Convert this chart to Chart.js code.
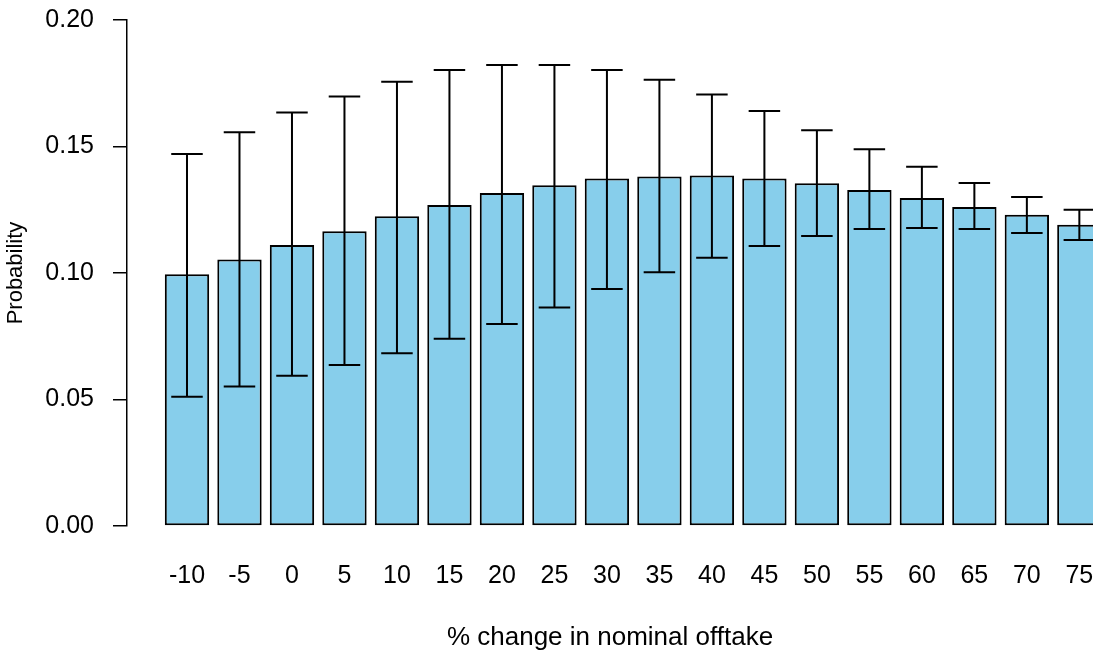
<!DOCTYPE html>
<html>
<head>
<meta charset="utf-8">
<script src="https://cdn.jsdelivr.net/npm/chart.js@4"></script>
<style>
  html, body { margin: 0; padding: 0; background: #fff; }
  canvas { display: block; }
</style>
</head>
<body>
<canvas id="chart" width="1093" height="653"></canvas>
<script>
// % change in nominal offtake
const offtake = ['-10', '-5', '0', '5', '10', '15', '20', '25', '30', '35', '40', '45', '50', '55', '60', '65', '70', '75'];
// bar heights
const probability = [0.0995, 0.1053, 0.1111, 0.1165, 0.1224, 0.1269, 0.1316, 0.1347, 0.1374, 0.1381, 0.1385, 0.1374, 0.1355, 0.1328, 0.1296, 0.1261, 0.1230, 0.1191];
// error bar ends
const upper = [0.1470, 0.1556, 0.1634, 0.1698, 0.1756, 0.1802, 0.1822, 0.1822, 0.1802, 0.1764, 0.1706, 0.1640, 0.1564, 0.1489, 0.1420, 0.1356, 0.1300, 0.1250];
const lower = [0.0511, 0.0551, 0.0594, 0.0636, 0.0683, 0.0740, 0.0798, 0.0864, 0.0937, 0.1003, 0.1060, 0.1107, 0.1146, 0.1174, 0.1178, 0.1174, 0.1158, 0.1130];
const yTicks = [0, 0.05, 0.10, 0.15, 0.20];

const FONT = '"Liberation Sans", Arial, Helvetica, sans-serif';
const capHalf = 0.3;

// draws the whiskers on top of the bars
const errorBars = {
    id: 'errorBars',
    afterDatasetsDraw(chart) {
        const {ctx, scales: {x, y}} = chart;
        ctx.save();
        ctx.strokeStyle = '#000';
        ctx.lineWidth = 2;
        probability.forEach((p, i) => {
            const px = x.getPixelForValue(i);
            const half = x.getPixelForValue(i + capHalf) - px;
            const top = y.getPixelForValue(upper[i]);
            const bot = y.getPixelForValue(lower[i]);
            ctx.beginPath();
            ctx.moveTo(px, top); ctx.lineTo(px, bot);
            ctx.moveTo(px - half, top); ctx.lineTo(px + half, top);
            ctx.moveTo(px - half, bot); ctx.lineTo(px + half, bot);
            ctx.stroke();
        });
        ctx.restore();
    }
};

new Chart(document.getElementById('chart'), {
    type: 'bar',
    data: {
        datasets: [{
            data: probability.map((v, i) => ({x: i, y: v})),
            backgroundColor: '#87CEEB',
            borderColor: '#000',
            borderWidth: 2,
            borderSkipped: false,
            categoryPercentage: 1,
            barPercentage: 0.845
        }]
    },
    options: {
        responsive: false,
        animation: false,
        layout: {padding: {top: 20, left: 0, right: 0, bottom: 0}},
        plugins: {legend: {display: false}, tooltip: {enabled: false}},
        scales: {
            x: {
                type: 'linear',
                offset: false,
                min: -1.1429,
                max: 17.26,
                afterFit(scale) {
                    scale.height = 127;
                    scale.paddingLeft = 0;
                    scale.paddingRight = 0;
                },
                border: {display: false},
                grid: {display: true, drawOnChartArea: false, drawTicks: true, tickLength: 32, color: 'rgba(0,0,0,0)'},
                ticks: {
                    stepSize: 1,
                    includeBounds: false,
                    autoSkip: false,
                    maxRotation: 0,
                    padding: 3,
                    color: '#000',
                    font: {family: FONT, size: 25},
                    callback: (v) => offtake[v] !== undefined ? offtake[v] : ''
                },
                title: {
                    display: true,
                    text: '% change in nominal offtake',
                    color: '#000',
                    font: {family: FONT, size: 26},
                    padding: {top: 0, bottom: 0}
                }
            },
            y: {
                min: 0,
                max: 0.2,
                afterFit(scale) {
                    scale.width = 127;
                    scale.paddingTop = 0;
                    scale.paddingBottom = 0;
                },
                afterBuildTicks(scale) { scale.ticks = yTicks.map(v => ({value: v})); },
                border: {display: true, color: '#000', width: 1.5},
                grid: {display: true, drawOnChartArea: false, drawTicks: true, tickLength: 14, color: '#000', lineWidth: 1.5},
                ticks: {
                    padding: 19,
                    color: '#000',
                    font: {family: FONT, size: 25},
                    callback: (v) => Number(v).toFixed(2)
                },
                title: {
                    display: true,
                    text: 'Probability',
                    color: '#000',
                    font: {family: FONT, size: 22},
                    padding: {top: 3, bottom: 0}
                }
            }
        }
    },
    plugins: [errorBars]
});
</script>
</body>
</html>
